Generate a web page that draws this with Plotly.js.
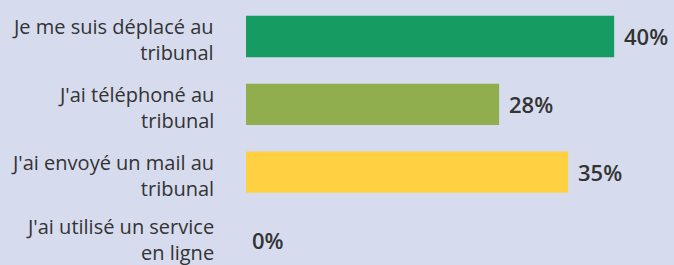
<!DOCTYPE html>
<html>
<head>
<meta charset="utf-8">
<script src="https://cdn.plot.ly/plotly-3.0.1.min.js"></script>
<style>html,body{margin:0;padding:0;background:#d6dcee;}#chart{width:674px;height:265px;}</style>
</head>
<body>
<div id="chart"></div>
<script>
const categories = [
  "Je me suis déplacé au<br>tribunal",
  "J'ai téléphoné au<br>tribunal",
  "J'ai envoyé un mail au<br>tribunal",
  "J'ai utilisé un service<br>en ligne"
];
const values = [40, 27.5, 35, 0];
const valueLabels = ["40%", "28%", "35%", "0%"];
const colors = ["#169b62", "#91ae4f", "#ffd042", "#cccccc"];

const trace = {
  type: "bar",
  orientation: "h",
  x: values,
  y: categories,
  marker: {color: colors},
  width: 0.61,
  hoverinfo: "none"
};

const valueAnnotations = values.map((v, i) => ({
  x: v, y: categories[i], xref: "x", yref: "y",
  text: valueLabels[i], showarrow: false,
  xanchor: "left", yanchor: "middle", xshift: v === 0 ? 4 : 8,
  font: {family: "Open Sans, sans-serif", size: 22, color: "#333333", weight: 600}
}));

const categoryAnnotations = categories.map((c, i) => ({
  x: 0, y: c, xref: "paper", yref: "y",
  text: c, showarrow: false, align: "right",
  xanchor: "right", yanchor: "middle", xshift: -30, yshift: i === 3 ? 0 : -3,
  font: {family: "Open Sans, sans-serif", size: 20, color: "#333333", weight: 500}
}));

const layout = {
  width: 674, height: 265,
  margin: {l: 246, r: 0, t: 0, b: 0, pad: 0},
  paper_bgcolor: "#d6dcee",
  plot_bgcolor: "#d6dcee",
  showlegend: false,
  xaxis: {range: [0, 46.5], visible: false, fixedrange: true},
  yaxis: {
    type: "category",
    range: [3.369, -0.538],
    showgrid: false, zeroline: false, showline: false,
    ticks: "", showticklabels: false
  },
  annotations: valueAnnotations.concat(categoryAnnotations)
};

Plotly.newPlot("chart", [trace], layout, {displayModeBar: false, staticPlot: true});
</script>
</body>
</html>
